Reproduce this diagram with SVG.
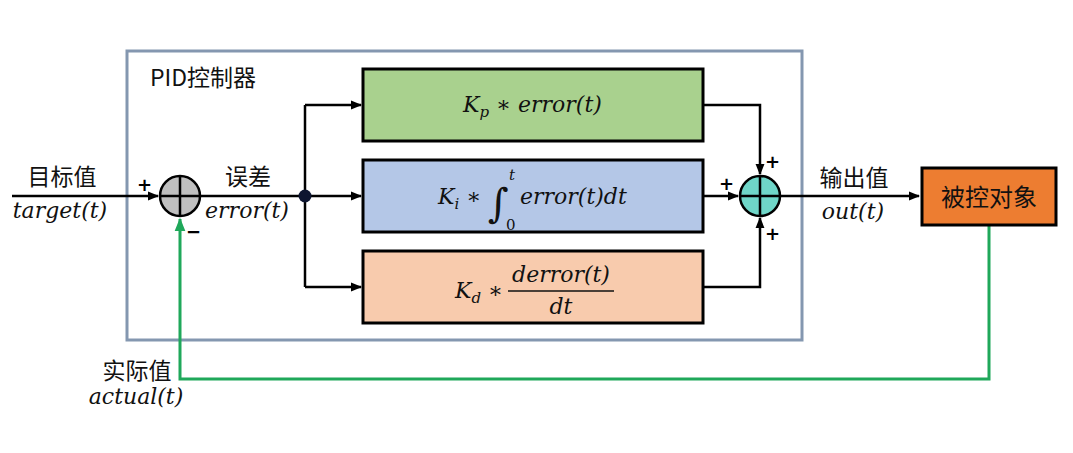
<svg xmlns="http://www.w3.org/2000/svg" width="1073" height="453" viewBox="0 0 1073 453">
<style>
.cn{font-family:"Noto Sans CJK SC","Noto Sans",sans-serif;fill:#111}
.m{font-family:"DejaVu Serif","Liberation Serif",serif;font-style:italic;fill:#111}
.ln{fill:none;stroke:#000;stroke-width:2.5}
.box{stroke:#000;stroke-width:3}
.sg{font-family:"DejaVu Sans",sans-serif;font-weight:bold;font-size:18px;fill:#000}
</style>
<defs>
<marker id="ah" viewBox="0 0 10 10" refX="9" refY="5" markerWidth="4.5" markerHeight="4.5" orient="auto" markerUnits="strokeWidth"><path d="M0,1 L10,5 L0,9 z" fill="#000"/></marker>
<marker id="ahg" viewBox="0 0 10 10" refX="9" refY="5" markerWidth="4.5" markerHeight="4.5" orient="auto" markerUnits="strokeWidth"><path d="M0,1 L10,5 L0,9 z" fill="#1FA85A"/></marker>
</defs>
<rect width="1073" height="453" fill="#fff"/>
<g id="pid-controller">
<rect x="127" y="51" width="675" height="289" fill="none" stroke="#8497B0" stroke-width="3"/>
<text class="cn" x="150" y="86" font-size="23">PID控制器</text>
</g>
<g id="connectors">
<path class="ln" d="M12,196 H158" marker-end="url(#ah)"/>
<path class="ln" d="M201,196 H305"/>
<path class="ln" d="M305,196 H361" marker-end="url(#ah)"/>
<path class="ln" d="M305,105 V287"/>
<path class="ln" d="M305,105 H361" marker-end="url(#ah)"/>
<path class="ln" d="M305,287 H361" marker-end="url(#ah)"/>
<path class="ln" d="M703,105 H760 V174" marker-end="url(#ah)"/>
<path class="ln" d="M703,196 H738" marker-end="url(#ah)"/>
<path class="ln" d="M703,287 H760 V218" marker-end="url(#ah)"/>
<path class="ln" d="M780,196 H919" marker-end="url(#ah)"/>
<path d="M989,225 V379 H180 V219" fill="none" stroke="#1FA85A" stroke-width="3" marker-end="url(#ahg)"/>
<circle cx="305" cy="196" r="6.5" fill="#0D1530"/>
</g>
<g id="sum1">
<circle cx="180" cy="196" r="20" fill="#BFBFBF" stroke="#000" stroke-width="2.5"/>
<path d="M160,196 H200 M180,176 V216" stroke="#000" stroke-width="2.5"/>
<text class="sg" x="137" y="191">+</text>
<text class="sg" x="186" y="238">−</text>
</g>
<g id="sum2">
<circle cx="760" cy="196" r="20" fill="#6FD6C8" stroke="#000" stroke-width="2.5"/>
<path d="M740,196 H780 M760,176 V216" stroke="#000" stroke-width="2.5"/>
<text class="sg" x="719" y="190">+</text>
<text class="sg" x="765" y="168">+</text>
<text class="sg" x="765" y="240">+</text>
</g>
<g id="kp">
<rect class="box" x="363" y="69" width="340" height="72" fill="#A9D18E"/>
<text class="m" x="463" y="112" font-size="22">K<tspan font-size="15" dy="5">p</tspan><tspan dy="-5"> ∗ error(t)</tspan></text>
</g>
<g id="ki">
<rect class="box" x="363" y="160" width="340" height="72" fill="#B4C7E7"/>
<text class="m" x="438" y="204" font-size="22">K<tspan font-size="15" dy="5">i</tspan><tspan dy="-5"> ∗</tspan></text>
<text x="488" y="217" font-family="DejaVu Serif,serif" font-size="40" fill="#111">∫</text>
<text class="m" x="509" y="180" font-size="15">t</text>
<text x="506" y="230" font-family="DejaVu Serif,serif" font-size="15" fill="#111">0</text>
<text class="m" x="520" y="204" font-size="22">error(t)dt</text>
</g>
<g id="kd">
<rect class="box" x="363" y="251" width="340" height="72" fill="#F8CBAD"/>
<text class="m" x="455" y="298" font-size="22">K<tspan font-size="15" dy="5">d</tspan><tspan dy="-5"> ∗</tspan></text>
<text class="m" x="561" y="282" font-size="22" text-anchor="middle">derror(t)</text>
<line x1="508" y1="291" x2="614" y2="291" stroke="#111" stroke-width="1.3"/>
<text class="m" x="561" y="314" font-size="22" text-anchor="middle">dt</text>
</g>
<g id="plant">
<rect class="box" x="922" y="168" width="134" height="57" fill="#ED7D31"/>
<text class="cn" x="989" y="206" font-size="24" text-anchor="middle">被控对象</text>
</g>
<g id="labels">
<text class="cn" x="62" y="185" font-size="23" text-anchor="middle">目标值</text>
<text class="m" x="60" y="218" font-size="22" text-anchor="middle">target(t)</text>
<text class="cn" x="248" y="185" font-size="23" text-anchor="middle">误差</text>
<text class="m" x="247" y="218" font-size="22" text-anchor="middle">error(t)</text>
<text class="cn" x="854" y="186" font-size="23" text-anchor="middle">输出值</text>
<text class="m" x="853" y="219" font-size="22" text-anchor="middle">out(t)</text>
<text class="cn" x="137" y="379" font-size="23" text-anchor="middle">实际值</text>
<text class="m" x="136" y="404" font-size="22" text-anchor="middle">actual(t)</text>
</g>
</svg>
